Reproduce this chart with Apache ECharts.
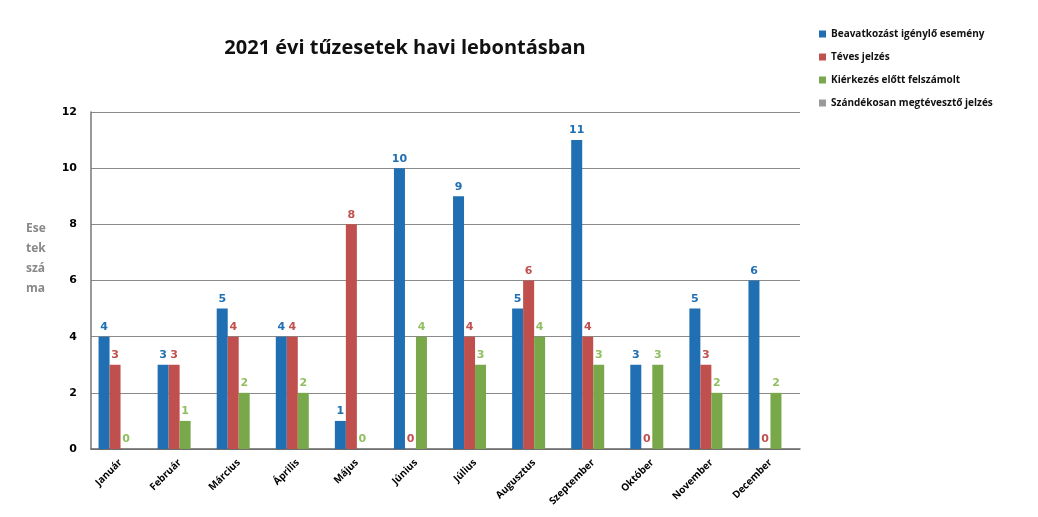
<!DOCTYPE html>
<html><head><meta charset="utf-8">
<script src="https://cdn.jsdelivr.net/npm/echarts@6/dist/echarts.min.js"></script>
<style>html,body{margin:0;padding:0;background:#fff}#c{width:1038px;height:517px}</style>
</head><body><div id="c"></div>
<script>
var months = ['Január','Február','Március','Április','Május','Június','Július','Augusztus','Szeptember','Október','November','December'];
var seriesNames = ['Beavatkozást igénylő esemény','Téves jelzés','Kiérkezés előtt felszámolt','Szándékosan megtévesztő jelzés'];
var beavatkozas = [4,3,5,4,1,10,9,5,11,3,5,6];
var teves = [3,3,4,4,8,0,4,6,4,0,3,0];
var kierkezes = [0,1,2,2,0,4,3,4,3,3,2,2];
var szandekos = [0,0,0,0,0,0,0,0,0,0,0,0];
var yTicks = [0,2,4,6,8,10,12];
var yName = 'Ese\ntek\nszá\nma';

var colors = ['#1f6fb2','#c0504d','#79a84a','#9a9a9a'];
var datas = [beavatkozas, teves, kierkezes, szandekos];
var chart = echarts.init(document.getElementById('c'));
var series = datas.map(function(d,i){
  return {
    name: seriesNames[i], type:'bar', data:d, barWidth:11, barGap:'0%',
    itemStyle:{color:colors[i]},
    label:{show:i<3, position:'top', color:colors[i]==='#79a84a'?'#8fbf5f':colors[i], fontWeight:'bold', fontSize:11, fontFamily:'DejaVu Sans', distance:4}
  };
});
chart.setOption({
  animation:false,
  title:{text:'2021 évi tűzesetek havi lebontásban', left:400, top:33, textAlign:'center',
    textStyle:{fontSize:20, fontWeight:'bold', color:'#111', fontFamily:'Open Sans'}},
  legend:{orient:'vertical', left:814, top:22, itemWidth:7, itemHeight:7, itemGap:9,
    icon:'rect', textStyle:{fontSize:10, fontWeight:'bold', color:'#111', fontFamily:'Open Sans', lineHeight:14},
    data:seriesNames},
  graphic:[{type:'text', left:26, top:219, style:{text:yName, fontSize:12, fontWeight:'bold', fill:'#888', lineHeight:20, fontFamily:'Open Sans'}}],
  grid:{left:91, right:238, top:112, bottom:68},
  xAxis:{type:'category', data:months,
    axisLine:{lineStyle:{color:'#666', width:1.5}}, axisTick:{show:false},
    axisLabel:{rotate:45, interval:0, fontSize:10, fontWeight:'bold', color:'#000', fontFamily:'Open Sans', margin:12}},
  yAxis:{type:'value', min:0, max:12, interval:2,
    axisLine:{show:true, lineStyle:{color:'#777', width:1.5}}, axisTick:{show:false},
    axisLabel:{fontSize:11, fontWeight:'bold', color:'#000', margin:14, fontFamily:'DejaVu Sans',
      formatter:function(v){return yTicks.indexOf(v)>=0?String(v):'';}},
    splitLine:{lineStyle:{color:'#8a8a8a', width:1.2}}},
  series:series
});
</script></body></html>
